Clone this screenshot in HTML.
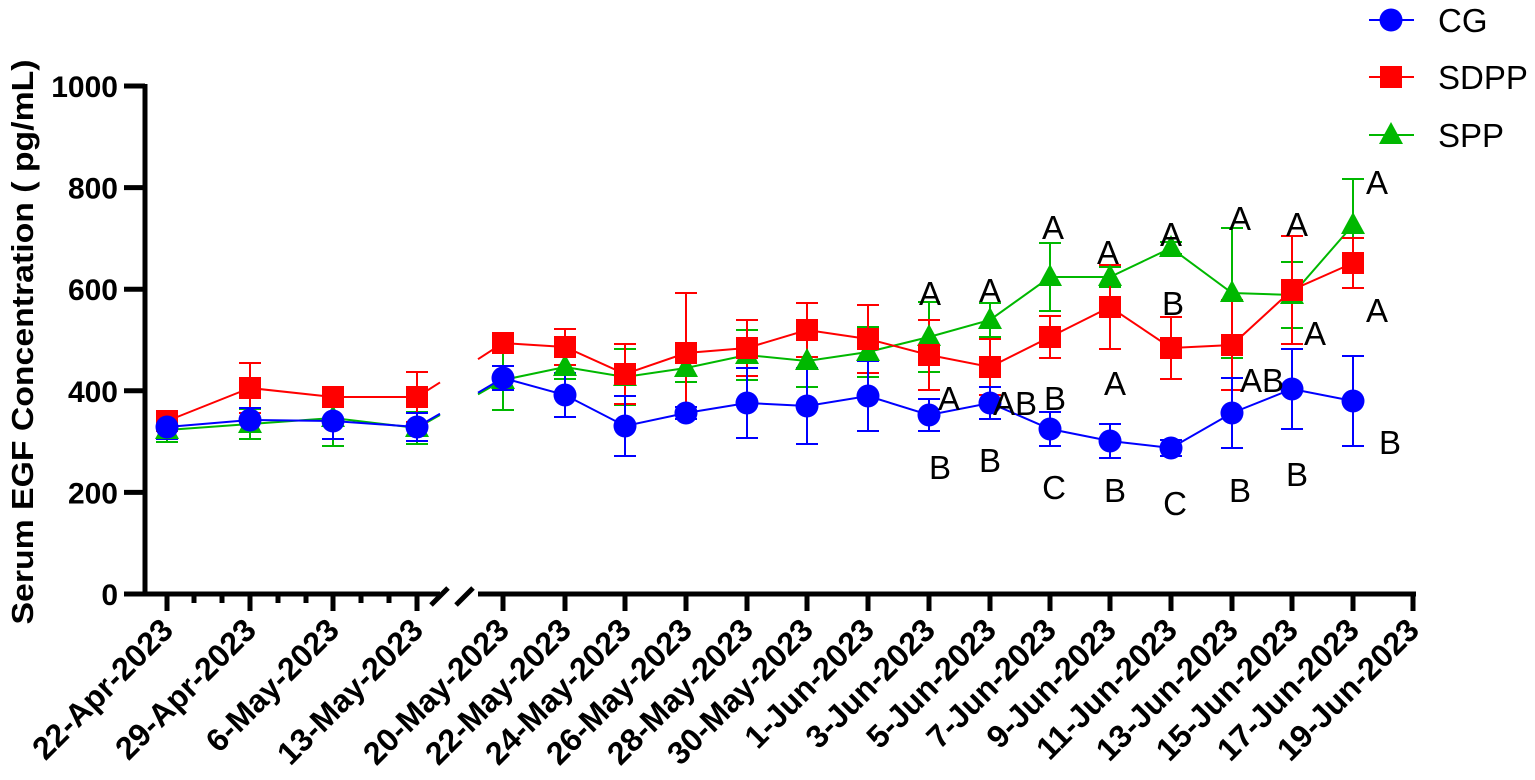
<!DOCTYPE html><html><head><meta charset="utf-8"><style>body{margin:0;background:#fff}svg{display:block}text{font-family:"Liberation Sans",Arial,sans-serif}</style></head><body>
<svg id="s" width="1535" height="780" xmlns="http://www.w3.org/2000/svg"></svg>
<script>
const s=document.getElementById('s');let h='';
const Y=v=>594-v*0.508;
h+='<path d="M145 84 V594 H440 M478 594 H1416" stroke="#000" stroke-width="5" fill="none"/>';
h+='<path d="M431 605 L448 588 M456 605 L473 588" stroke="#000" stroke-width="5"/>';
[0,200,400,600,800,1000].forEach(v=>{h+=`<line x1="124" x2="145" y1="${Y(v)}" y2="${Y(v)}" stroke="#000" stroke-width="5"/><text x="118" y="${Y(v)+11}" text-anchor="end" font-size="30" font-weight="bold">${v}</text>`;});
const X=[167,250,333,417,503,565,625,686,747,807,868,929,990,1050,1110,1171,1232,1292,1353,1413];
const L=['22-Apr-2023','29-Apr-2023','6-May-2023','13-May-2023','20-May-2023','22-May-2023','24-May-2023','26-May-2023','28-May-2023','30-May-2023','1-Jun-2023','3-Jun-2023','5-Jun-2023','7-Jun-2023','9-Jun-2023','11-Jun-2023','13-Jun-2023','15-Jun-2023','17-Jun-2023','19-Jun-2023'];
X.forEach((x,i)=>{h+=`<line x1="${x}" x2="${x}" y1="594" y2="611" stroke="#000" stroke-width="5"/>`;
h+=`<text transform="translate(${x+8},632) rotate(-45)" text-anchor="end" font-size="32" font-weight="bold">${L[i]}</text>`;});
[194,222,278,306,361,389].forEach(x=>h+=`<line x1="${x}" x2="${x}" y1="594" y2="603" stroke="#000" stroke-width="5"/>`);
h+='<text transform="translate(33,342) rotate(-90)" text-anchor="middle" font-size="31" font-weight="bold" textLength="565" lengthAdjust="spacingAndGlyphs">Serum EGF Concentration ( pg/mL)</text>';
const P=X.slice(0,19);
const CG=[427,420,421,427,378,395,426,413,403,406,396,415,403,429,441,448,413,389,401];
const CGe=[12,12,18,14,12,22,30,6,35,38,35,16,16,17,17,8,35,40,45];
const SD=[421,388,397,397,343,347,374,353,348,330,339,355,367,337,307,348,345,290,263];
const SDe=[10,25,8,25,6,18,30,60,28,27,34,35,28,21,42,31,45,54,25];
const SP=[430,424,418,428,380,367,377,368,355,361,352,337,320,277,277,248,293,295,225];
const SPe=[12,15,28,16,30,12,28,14,25,26,25,35,17,34,10,6,65,33,46];
function ser(Yv,E,c){let o='';
 const seg=(a,b)=>'M'+Yv.slice(a,b).map((y,i)=>P[a+i]+' '+y).join(' L');
 o+=`<path d="${seg(0,4)} L440 ${Yv[3]+(Yv[4]-Yv[3])*0.27} M478 ${Yv[4]-(Yv[4]-Yv[3])*0.3} L${seg(4,19).slice(1)}" stroke="${c}" stroke-width="2" fill="none"/>`;
 Yv.forEach((y,i)=>{const x=P[i],e=E[i];o+=`<path d="M${x} ${y-e} V${y+e} M${x-11} ${y-e} H${x+11} M${x-11} ${y+e} H${x+11}" stroke="${c}" stroke-width="2"/>`;});
 return o;}
h+=ser(SP,SPe,'#00b800')+ser(SD,SDe,'#f00')+ser(CG,CGe,'#00f');
SP.forEach((y,i)=>h+=`<path d="M${P[i]} ${y-13} L${P[i]+12} ${y+9} L${P[i]-12} ${y+9}Z" fill="#00b800"/>`);
SD.forEach((y,i)=>h+=`<rect x="${P[i]-11}" y="${y-11}" width="22" height="22" fill="#f00"/>`);
CG.forEach((y,i)=>h+=`<circle cx="${P[i]}" cy="${y}" r="11.5" fill="#00f"/>`);
const T=[[930,293,'A'],[990,290,'A'],[1053,227,'A'],[1108,252,'A'],[1171,234,'A'],[1240,218,'A'],[1297,224,'A'],[1377,182,'A'],
[949,398,'A'],[1015,403,'AB'],[1055,398,'B'],[1115,383,'A'],[1173,303,'B'],[1262,380,'AB'],[1315,333,'A'],[1377,310,'A'],
[940,467,'B'],[990,460,'B'],[1054,487,'C'],[1115,490,'B'],[1175,503,'C'],[1240,490,'B'],[1297,474,'B'],[1390,442,'B']];
T.forEach(t=>h+=`<text x="${t[0]}" y="${t[1]+12}" text-anchor="middle" font-size="33">${t[2]}</text>`);
h+='<line x1="1369" x2="1414" y1="20" y2="20" stroke="#00f" stroke-width="2"/><circle cx="1391" cy="20" r="11.5" fill="#00f"/><text x="1438" y="32" font-size="33">CG</text>';
h+='<line x1="1369" x2="1414" y1="77" y2="77" stroke="#f00" stroke-width="2"/><rect x="1380" y="66" width="22" height="22" fill="#f00"/><text x="1438" y="89" font-size="33">SDPP</text>';
h+='<line x1="1369" x2="1414" y1="135" y2="135" stroke="#00b800" stroke-width="2"/><path d="M1391 122 L1403 144 L1379 144Z" fill="#00b800"/><text x="1438" y="147" font-size="33">SPP</text>';
s.innerHTML=h;
</script></body></html>
